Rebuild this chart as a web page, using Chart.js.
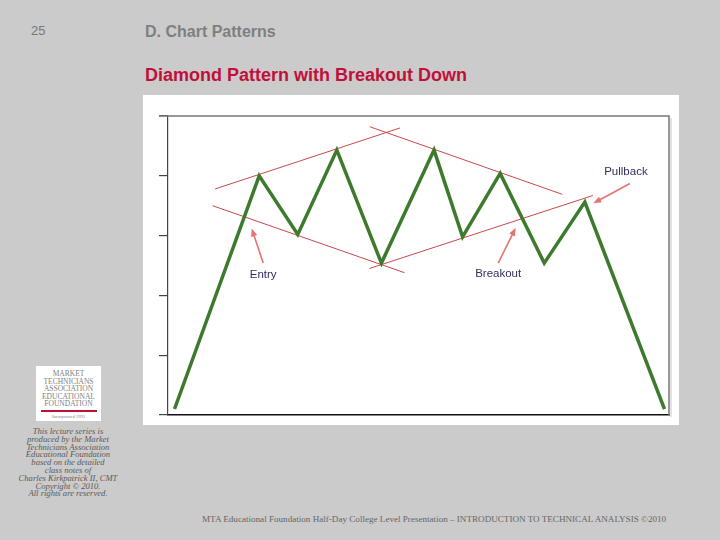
<!DOCTYPE html>
<html>
<head>
<meta charset="utf-8">
<script src="https://cdn.jsdelivr.net/npm/chart.js@4/dist/chart.umd.min.js"></script>
<style>
  html, body { margin: 0; padding: 0; }
  body { width: 720px; height: 540px; background: #cbcbcb; position: relative; overflow: hidden;
         font-family: "Liberation Sans", Arial, sans-serif; }
  .abs { position: absolute; white-space: nowrap; }
  #pageNo { left: 31px; top: 23px; font-size: 13px; color: #777; }
  #section { left: 145px; top: 23px; font-size: 16px; font-weight: bold; color: #7f7f7f; }
  #title { left: 145px; top: 65px; font-size: 18px; font-weight: bold; color: #c0103a; }
  #panel { left: 143px; top: 95px; width: 536px; height: 330px; background: #fff; }
  #logo { left: 36px; top: 366px; width: 65px; height: 55px; background: #fff; text-align: center;
          font-family: "Liberation Serif", serif; color: #808080; font-size: 7.5px; line-height: 7.6px; padding-top: 4px; box-sizing: border-box; }
  #logo .bar { width: 56px; height: 2px; background: #c0103a; margin: 2px auto 2px; }
  #logo .inc { font-size: 4.5px; line-height: 5px; }
  #credits { left: 8px; top: 428px; width: 120px; text-align: center; font-family: "Liberation Serif", serif;
             font-style: italic; font-size: 8.6px; line-height: 7.8px; color: #5a5a5a; }
  #footer { left: 202px; top: 514px; font-family: "Liberation Serif", serif; font-size: 9.1px; color: #666; }
</style>
</head>
<body>
<div class="abs" id="pageNo">25</div>
<div class="abs" id="section">D. Chart Patterns</div>
<div class="abs" id="title">Diamond Pattern with Breakout Down</div>
<div class="abs" id="panel"><canvas id="chart" width="536" height="330"></canvas></div>
<div class="abs" id="logo">MARKET<br>TECHNICIANS<br>ASSOCIATION<br>EDUCATIONAL<br>FOUNDATION<div class="bar"></div><div class="inc">Incorporated 1993</div></div>
<div class="abs" id="credits">This lecture series is<br>produced by the Market<br>Technicians Association<br>Educational Foundation<br>based on the detailed<br>class notes of<br>Charles Kirkpatrick II, CMT<br>Copyright © 2010.<br>All rights are reserved.</div>
<div class="abs" id="footer">MTA Educational Foundation Half-Day College Level Presentation – INTRODUCTION TO TECHNICAL ANALYSIS ©2010</div>

<script>
// price path (x: time units 0-100, y: price units 0-5)
var priceX = [1.3, 18.2, 25.9, 33.7, 42.6, 53.1, 58.8, 66.3, 75.1, 83.2, 99.1];
var priceY = [0.1, 4.0, 3.02, 4.43, 2.54, 4.43, 2.98, 4.04, 2.54, 3.56, 0.1];

// diamond trend lines
var upperRiseX = [9.4, 46.3],  upperRiseY = [3.78, 4.80];
var lowerFallX = [8.9, 47.2],  lowerFallY = [3.50, 2.38];
var upperFallX = [40.3, 78.7], upperFallY = [4.82, 3.69];
var lowerRiseX = [40.2, 84.8], lowerRiseY = [2.45, 3.67];

// callouts
var calloutText  = ['Entry', 'Breakout', 'Pullback'];
var calloutTextX = [19.0, 65.9, 91.4];
var calloutTextY = [2.34, 2.36, 4.06];
var arrowTailX   = [19.0, 65.9, 92.2];
var arrowTailY   = [2.54, 2.54, 3.87];
var arrowTipX    = [16.7, 69.4, 84.9];
var arrowTipY    = [3.12, 3.13, 3.54];

var yTicks = [0, 1, 2, 3, 4, 5];

function pts(xs, ys) {
  return xs.map(function (x, i) { return { x: x, y: ys[i] }; });
}

function trend(xs, ys) {
  return { data: pts(xs, ys), borderColor: '#c9474a', borderWidth: 1, pointRadius: 0, order: 2 };
}

var framePlugin = {
  id: 'frame',
  beforeDatasetsDraw: function (chart) {
    var a = chart.chartArea, ctx = chart.ctx;
    ctx.save();
    ctx.strokeStyle = '#777';
    ctx.lineWidth = 1.5;
    ctx.beginPath();
    ctx.moveTo(a.left - 9, a.top);
    ctx.lineTo(a.right, a.top);
    ctx.lineTo(a.right, a.bottom);
    ctx.stroke();
    ctx.strokeStyle = '#e2e2e2';
    ctx.lineWidth = 2;
    ctx.beginPath();
    ctx.moveTo(a.right + 2, a.top + 2);
    ctx.lineTo(a.right + 2, a.bottom + 2);
    ctx.stroke();
    ctx.restore();
  }
};

var calloutPlugin = {
  id: 'callouts',
  afterDatasetsDraw: function (chart) {
    var sx = chart.scales.x, sy = chart.scales.y, ctx = chart.ctx;
    ctx.save();
    calloutText.forEach(function (t, i) {
      var x0 = sx.getPixelForValue(arrowTailX[i]), y0 = sy.getPixelForValue(arrowTailY[i]);
      var x1 = sx.getPixelForValue(arrowTipX[i]),  y1 = sy.getPixelForValue(arrowTipY[i]);
      var ang = Math.atan2(y1 - y0, x1 - x0);
      var len = 8, half = 3.2;
      ctx.strokeStyle = '#e27474';
      ctx.fillStyle = '#e27474';
      ctx.lineWidth = 1.6;
      ctx.beginPath();
      ctx.moveTo(x0, y0);
      ctx.lineTo(x1 - Math.cos(ang) * len * 0.8, y1 - Math.sin(ang) * len * 0.8);
      ctx.stroke();
      ctx.beginPath();
      ctx.moveTo(x1, y1);
      ctx.lineTo(x1 - Math.cos(ang) * len - Math.sin(ang) * half, y1 - Math.sin(ang) * len + Math.cos(ang) * half);
      ctx.lineTo(x1 - Math.cos(ang) * len + Math.sin(ang) * half, y1 - Math.sin(ang) * len - Math.cos(ang) * half);
      ctx.closePath();
      ctx.fill();

      ctx.fillStyle = '#2e2e60';
      ctx.font = '11.5px "Liberation Sans", Arial, sans-serif';
      ctx.textAlign = 'center';
      ctx.textBaseline = 'middle';
      ctx.fillText(t, sx.getPixelForValue(calloutTextX[i]), sy.getPixelForValue(calloutTextY[i]));
    });
    ctx.restore();
  }
};

new Chart(document.getElementById('chart'), {
  type: 'line',
  data: {
    datasets: [
      { data: pts(priceX, priceY), borderColor: '#3d7a2e', borderWidth: 3.5, pointRadius: 0,
        borderJoinStyle: 'miter', order: 1 },
      trend(upperRiseX, upperRiseY),
      trend(lowerFallX, lowerFallY),
      trend(upperFallX, upperFallY),
      trend(lowerRiseX, lowerRiseY)
    ]
  },
  options: {
    responsive: false,
    animation: false,
    layout: { padding: { left: 16, top: 21, right: 10, bottom: 10 } },
    plugins: { legend: { display: false }, tooltip: { enabled: false } },
    scales: {
      x: {
        type: 'linear', min: 0, max: 100,
        grid: { display: false, drawTicks: false },
        ticks: { display: false },
        border: { display: true, color: '#111', width: 1.5 }
      },
      y: {
        min: 0, max: 5,
        afterBuildTicks: function (scale) { scale.ticks = yTicks.map(function (v) { return { value: v }; }); },
        grid: { drawOnChartArea: false, drawTicks: true, tickLength: 9, color: '#444', lineWidth: 1.2 },
        ticks: { display: false },
        border: { display: true, color: '#444', width: 1.2 }
      }
    }
  },
  plugins: [framePlugin, calloutPlugin]
});
</script>
</body>
</html>
